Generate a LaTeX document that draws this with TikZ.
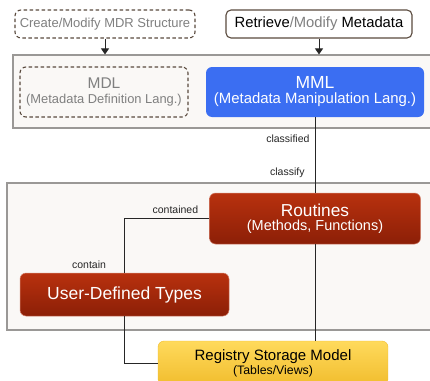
\documentclass[tikz,border=0pt]{standalone}
\usepackage{fontspec}
\setmainfont{Liberation Sans}
\usetikzlibrary{arrows.meta,shadows}
\definecolor{panelfill}{HTML}{FAF8F6}
\definecolor{panelline}{HTML}{9A9896}
\definecolor{dashline}{HTML}{5A4A3E}
\definecolor{greytext}{HTML}{808080}
\definecolor{mmlblue}{HTML}{3B6EF2}
\definecolor{redtop}{HTML}{B8310E}
\definecolor{redbot}{HTML}{8C1F07}
\definecolor{goldtop}{HTML}{FFDA5C}
\definecolor{goldbot}{HTML}{F1BD2E}
\tikzset{
  panel/.style={draw=panelline, fill=panelfill, line width=1.1pt, inner sep=0pt},
  dashbox/.style={draw=dashline, dash pattern=on 3.5pt off 2.5pt, line width=1.1pt, rounded corners=6pt, align=center, inner sep=0pt},
  plainbox/.style={draw=dashline, line width=1.1pt, rounded corners=5pt, align=center, inner sep=0pt},
  redbox/.style={rounded corners=6pt, top color=redtop, bottom color=redbot, draw=redtop!60!white, line width=0.5pt, text=white, align=center, inner sep=0pt},
  link/.style={line width=1pt, black!85},
  arr/.style={link, -{Triangle[length=6pt,width=8pt]}},
  lbl/.style={font=\fontsize{10.5}{12}\selectfont, inner sep=1pt}
}
\begin{document}
\begin{tikzpicture}[x=1pt, y=-1pt]
  \fill[white] (0,0) rectangle (430,380);
  \useasboundingbox (0,0) rectangle (430,380);
  \node[panel, minimum width=423pt, minimum height=73pt] (upper) at (224.5,91.5) {};
  \node[panel, minimum width=429pt, minimum height=147pt] (lower) at (221.5,256.5) {};

  \node[dashbox, minimum width=180pt, minimum height=28pt, text=greytext,
    font=\fontsize{13}{15}\selectfont] (create) at (105,24) {Create/Modify MDR Structure};
  \node[plainbox, minimum width=186pt, minimum height=28pt,
    font=\fontsize{14.8}{16}\selectfont] (retrieve) at (319,24) {Retrieve\textcolor{greytext}{/Modify} Metadata};

  \node[dashbox, minimum width=168pt, minimum height=50pt, text=greytext] (mdl) at (104,92)
    {{\fontsize{15.5}{17}\selectfont MDL}\\[3pt]{\fontsize{12.9}{14}\selectfont (Metadata Definition Lang.)}};
  \node[rounded corners=6pt, fill=mmlblue, text=white, align=center, inner sep=0pt,
    minimum width=218pt, minimum height=50pt] (mml) at (315,92)
    {{\fontsize{17.5}{19}\selectfont MML}\\[3pt]{\fontsize{14.9}{16}\selectfont (Metadata Manipulation Lang.)}};

  \node[redbox, minimum width=211pt, minimum height=51pt] (routines) at (315,218.5)
    {{\fontsize{17.3}{19}\selectfont Routines}\\[2.5pt]{\fontsize{14.5}{16}\selectfont (Methods, Functions)}};
  \node[redbox, minimum width=209pt, minimum height=43pt,
    font=\fontsize{17.5}{19}\selectfont] (udt) at (124.5,294.5) {User-Defined Types};
  \node[rounded corners=6pt, top color=goldtop, bottom color=goldbot, draw=goldbot,
    align=center, inner sep=0pt, minimum width=230pt, minimum height=44pt] (registry) at (273,363)
    {{\fontsize{15}{16}\selectfont Registry Storage Model}\\[1pt]{\fontsize{12.3}{13}\selectfont (Tables/Views)}};

  \draw[arr] (create.south) -- (create.south |- upper.north);
  \draw[arr] (retrieve.south) -- (retrieve.south |- upper.north);
  \draw[link] (mml.south) -- (routines.north)
    node[lbl, pos=0.29, left=4pt] {classified}
    node[lbl, pos=0.74, left=9pt] {classify};
  \draw[link] (routines.west) -| (udt.north)
    node[lbl, pos=0.2, above=3pt] {contained}
    node[lbl, pos=0.93, left=17pt] {contain};
  \draw[link] (udt.south) |- (registry.west);
  \draw[link] (routines.south) -- (routines.south |- registry.north);
\end{tikzpicture}
\end{document}
